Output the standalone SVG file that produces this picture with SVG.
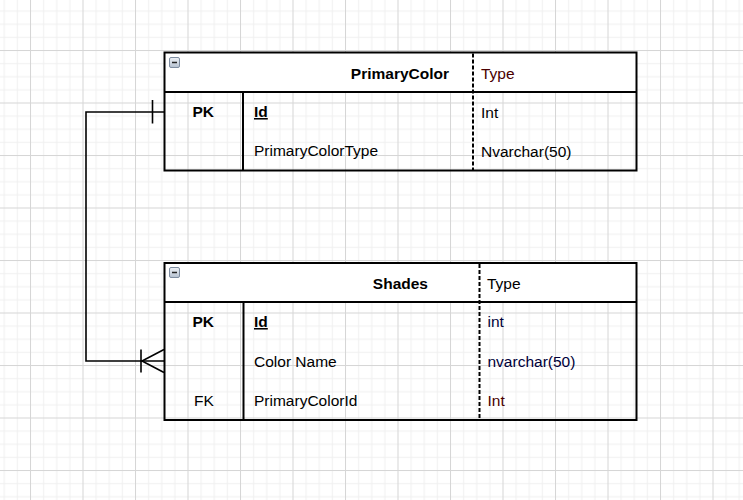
<svg xmlns="http://www.w3.org/2000/svg" width="743" height="500" viewBox="0 0 743 500">
  <style>
    text { font-family: "Liberation Sans", Arial, sans-serif; font-size: 15.5px; fill: #000; }
    .b { font-weight: bold; }
    .u { text-decoration: underline; }
    .frame { fill: none; stroke: #000; stroke-width: 2; }
    .head { fill: #fff; stroke: none; }
    .sep { stroke: #000; stroke-width: 2; fill: none; }
    .dash { stroke: #000; stroke-width: 2; stroke-dasharray: 4 2; fill: none; }
    .conn { stroke: #000; stroke-width: 1.6; fill: none; }
    .icon { fill: url(#ig); stroke: #7d8ca0; stroke-width: 1; }
    .minus { stroke: #222; stroke-width: 1.5; }
    .tr { fill: #4a0000; }
    .tb { fill: #00003a; }
  </style>
  <defs>
    <pattern id="grid" patternUnits="userSpaceOnUse" x="30" y="50" width="52.5" height="52.5">
      <rect width="52.5" height="52.5" fill="#fff"/>
      <rect x="13.125" y="0" width="1" height="52.5" fill="#f0f0f0"/>
      <rect x="26.25" y="0" width="1" height="52.5" fill="#f0f0f0"/>
      <rect x="39.375" y="0" width="1" height="52.5" fill="#f0f0f0"/>
      <rect x="0" y="13.125" width="52.5" height="1" fill="#f0f0f0"/>
      <rect x="0" y="26.25" width="52.5" height="1" fill="#f0f0f0"/>
      <rect x="0" y="39.375" width="52.5" height="1" fill="#f0f0f0"/>
      <rect x="0" y="0" width="1" height="52.5" fill="#d6d6d6"/>
      <rect x="0" y="0" width="52.5" height="1" fill="#d6d6d6"/>
    </pattern>
    <linearGradient id="ig" x1="0" y1="0" x2="0" y2="1">
      <stop offset="0" stop-color="#eef2f7"/>
      <stop offset="1" stop-color="#b4c0cf"/>
    </linearGradient>
  </defs>

  <rect x="0" y="0" width="743" height="500" fill="url(#grid)"/>

  <g id="connectors">
    <path class="conn" d="M164,112 H86 V361 H164"/>
    <path class="conn" d="M152.5,100 V123.5"/>
    <path class="conn" d="M141,349.5 V372.5"/>
    <path class="conn" d="M164,349.5 L142,361 L164,372.5"/>
  </g>

  <g id="PrimaryColor">
    <rect class="head" x="164.5" y="52.5" width="472" height="39.5"/>
    <rect class="frame" x="164.5" y="52.5" width="472" height="118"/>
    <line class="sep" x1="164.5" y1="92" x2="636.5" y2="92"/>
    <line class="sep" x1="243" y1="92" x2="243" y2="170.5"/>
    <line class="dash" x1="473" y1="53.5" x2="473" y2="170"/>
    <rect class="icon" x="169.5" y="57.5" width="10" height="10" rx="1.5"/>
    <line class="minus" x1="172" y1="62.5" x2="177" y2="62.5"/>
    <text class="b" x="449" y="79" text-anchor="end">PrimaryColor</text>
    <text class="tr" x="481" y="79">Type</text>
    <text class="b" x="192.5" y="117">PK</text>
    <text class="b u" x="254" y="117">Id</text>
    <text x="481" y="118">Int</text>
    <text x="254" y="156">PrimaryColorType</text>
    <text x="481" y="157">Nvarchar(50)</text>
  </g>

  <g id="Shades">
    <rect class="head" x="164.5" y="263" width="472" height="39"/>
    <rect class="frame" x="164.5" y="263" width="472" height="157"/>
    <line class="sep" x1="164.5" y1="302" x2="636.5" y2="302"/>
    <line class="sep" x1="243.5" y1="302" x2="243.5" y2="420"/>
    <line class="dash" x1="479.5" y1="264" x2="479.5" y2="419.5"/>
    <rect class="icon" x="169.5" y="267.5" width="10" height="10" rx="1.5"/>
    <line class="minus" x1="172" y1="272.5" x2="177" y2="272.5"/>
    <text class="b" x="428" y="289" text-anchor="end">Shades</text>
    <text x="487" y="289">Type</text>
    <text class="b" x="192.5" y="327">PK</text>
    <text class="b u" x="254" y="327">Id</text>
    <text class="tb" x="487.5" y="327">int</text>
    <text x="254" y="366.5">Color Name</text>
    <text class="tb" x="487.5" y="366.5">nvarchar(50)</text>
    <text x="194" y="406">FK</text>
    <text x="254" y="406">PrimaryColorId</text>
    <text class="tr" x="487.5" y="406">Int</text>
  </g>
</svg>
